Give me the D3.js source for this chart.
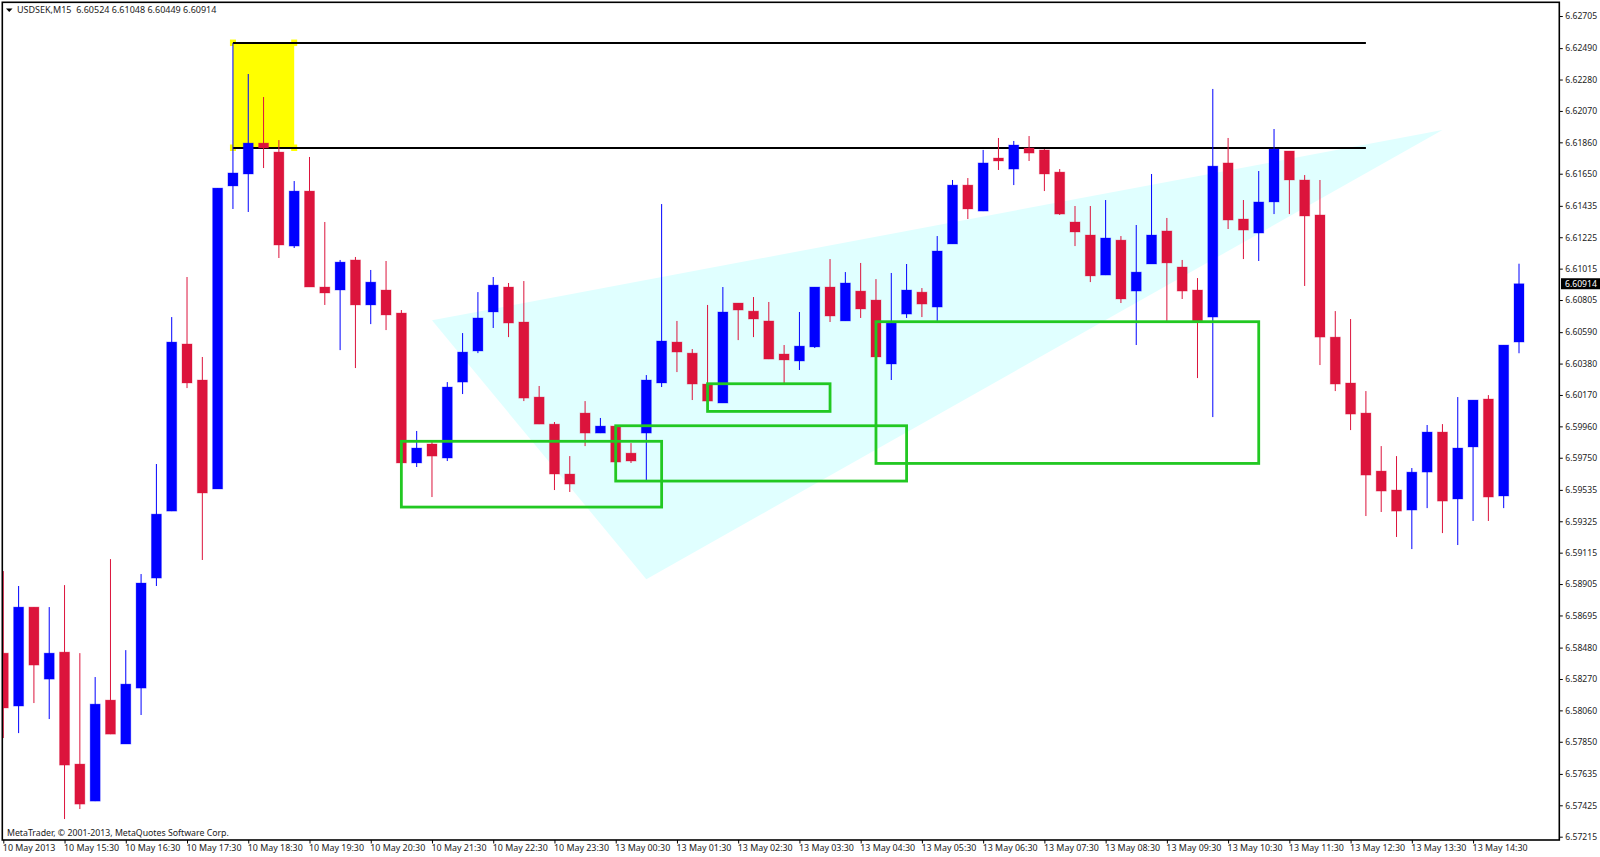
<!DOCTYPE html>
<html lang="en">
<head>
<meta charset="UTF-8" />
<title>USDSEK,M15</title>
<style>
  html, body { margin: 0; padding: 0; background: #fff; overflow: hidden; }
  svg { display: block; }
  text { font-family: "Noto Sans", "Liberation Sans", sans-serif; font-size: 9px; fill: #222; }
  .axis path { display: none; }
  .axis line { stroke: #000; stroke-width: 1; }
  .frame { fill: none; stroke: #000; stroke-width: 1.6; }
  .up { fill: #0000ff; stroke: #0000ff; }
  .down { fill: #dc143c; stroke: #dc143c; }
  .body { stroke-opacity: 0.3; stroke-width: 1; }
  .wick { stroke-width: 1; }
  .wick.up { stroke: #0000ff; }
  .wick.down { stroke: #dc143c; }
</style>
</head>
<body>
<svg width="1600" height="857"></svg>
<script src="https://d3js.org/d3.v7.min.js"></script>
<script>
  const opens = [
    6.58443, 6.58089, 6.58751, 6.58269, 6.58450, 6.57701, 6.57453, 6.58129, 6.57835, 6.58209,
    6.58945, 6.59393, 6.60511, 6.60270, 6.59541, 6.61568, 6.61648, 6.61855, 6.61795, 6.61166,
    6.61534, 6.60892, 6.60872, 6.61073, 6.60772, 6.60872, 6.60718, 6.59715, 6.59842, 6.59748,
    6.60256, 6.60464, 6.60725, 6.60892, 6.60658, 6.60156, 6.59975, 6.59641, 6.60049, 6.59915,
    6.59962, 6.59781, 6.59915, 6.60250, 6.60524, 6.60450, 6.60243, 6.60116, 6.60785, 6.60731,
    6.60665, 6.60444, 6.60397, 6.60491, 6.60892, 6.60665, 6.60865, 6.60805, 6.60377, 6.60711,
    6.60858, 6.60758, 6.61180, 6.61574, 6.61400, 6.61755, 6.61681, 6.61822, 6.61809, 6.61661,
    6.61327, 6.61240, 6.60972, 6.61206, 6.60865, 6.61046, 6.61267, 6.61026, 6.60872, 6.60691,
    6.61722, 6.61347, 6.61253, 6.61461, 6.61802, 6.61608, 6.61374, 6.60557, 6.60250, 6.60049,
    6.59661, 6.59534, 6.59400, 6.59654, 6.59922, 6.59474, 6.59822, 6.60143, 6.59494, 6.60524
  ];
  const highs = [
    6.58992, 6.58892, 6.58751, 6.58751, 6.58898, 6.58443, 6.58283, 6.59072, 6.58463, 6.58972,
    6.59708, 6.60691, 6.60959, 6.60424, 6.61554, 6.62524, 6.62317, 6.62163, 6.61875, 6.61601,
    6.61762, 6.61327, 6.61073, 6.61093, 6.61006, 6.61066, 6.60738, 6.59929, 6.59855, 6.60256,
    6.60584, 6.60858, 6.60959, 6.60919, 6.60932, 6.60230, 6.59989, 6.59761, 6.60129, 6.60016,
    6.59962, 6.59848, 6.60303, 6.61447, 6.60665, 6.60477, 6.60772, 6.60892, 6.60785, 6.60825,
    6.60792, 6.60504, 6.60725, 6.60892, 6.61079, 6.60992, 6.61053, 6.60945, 6.60986, 6.61046,
    6.60885, 6.61233, 6.61608, 6.61621, 6.61809, 6.61889, 6.61869, 6.61902, 6.61815, 6.61681,
    6.61434, 6.61434, 6.61474, 6.61233, 6.61307, 6.61648, 6.61354, 6.61073, 6.60952, 6.62217,
    6.61889, 6.61474, 6.61668, 6.61949, 6.61802, 6.61641, 6.61608, 6.60731, 6.60678, 6.60196,
    6.59828, 6.59761, 6.59681, 6.59969, 6.59975, 6.60156, 6.60136, 6.60169, 6.60504, 6.61048
  ];
  const lows = [
    6.57875, 6.57908, 6.58109, 6.58002, 6.57333, 6.57400, 6.57453, 6.57901, 6.57835, 6.58029,
    6.58892, 6.59393, 6.60216, 6.59066, 6.59541, 6.61414, 6.61394, 6.61688, 6.61086, 6.61153,
    6.60892, 6.60772, 6.60470, 6.60350, 6.60644, 6.60604, 6.59715, 6.59688, 6.59487, 6.59728,
    6.60176, 6.60450, 6.60618, 6.60557, 6.60129, 6.59975, 6.59534, 6.59521, 6.59828, 6.59915,
    6.59721, 6.59715, 6.59601, 6.60223, 6.60323, 6.60136, 6.60129, 6.60116, 6.60537, 6.60557,
    6.60410, 6.60250, 6.60337, 6.60484, 6.60658, 6.60665, 6.60685, 6.60424, 6.60270, 6.60685,
    6.60691, 6.60665, 6.61180, 6.61347, 6.61400, 6.61675, 6.61574, 6.61735, 6.61534, 6.61374,
    6.61166, 6.60925, 6.60972, 6.60785, 6.60504, 6.61046, 6.60658, 6.60812, 6.60283, 6.60022,
    6.61280, 6.61079, 6.61066, 6.61380, 6.61380, 6.60899, 6.60370, 6.60196, 6.59935, 6.59360,
    6.59387, 6.59220, 6.59139, 6.59413, 6.59246, 6.59166, 6.59327, 6.59327, 6.59413, 6.60449
  ];
  const closes = [
    6.58076, 6.58751, 6.58363, 6.58443, 6.57694, 6.57433, 6.58102, 6.57901, 6.58236, 6.58912,
    6.59373, 6.60524, 6.60250, 6.59514, 6.61554, 6.61655, 6.61855, 6.61822, 6.61173, 6.61534,
    6.60892, 6.60852, 6.61059, 6.60772, 6.60925, 6.60705, 6.59715, 6.59815, 6.59761, 6.60223,
    6.60457, 6.60685, 6.60905, 6.60651, 6.60149, 6.59975, 6.59641, 6.59574, 6.59915, 6.59962,
    6.59721, 6.59728, 6.60270, 6.60531, 6.60457, 6.60243, 6.60129, 6.60725, 6.60738, 6.60678,
    6.60410, 6.60404, 6.60497, 6.60892, 6.60698, 6.60919, 6.60745, 6.60424, 6.60651, 6.60872,
    6.60778, 6.61133, 6.61574, 6.61414, 6.61722, 6.61735, 6.61842, 6.61788, 6.61648, 6.61380,
    6.61260, 6.60966, 6.61220, 6.60812, 6.60992, 6.61240, 6.61053, 6.60865, 6.60665, 6.61701,
    6.61340, 6.61273, 6.61461, 6.61815, 6.61608, 6.61367, 6.60557, 6.60243, 6.60042, 6.59634,
    6.59527, 6.59393, 6.59654, 6.59922, 6.59460, 6.59815, 6.60136, 6.59487, 6.60504, 6.60914
  ];

  const priceTicks = [
    6.62705, 6.62490, 6.62280, 6.62070, 6.61860, 6.61650, 6.61435, 6.61225, 6.61015,
    6.60805, 6.60590, 6.60380, 6.60170, 6.59960, 6.59750, 6.59535, 6.59325, 6.59115,
    6.58905, 6.58695, 6.58480, 6.58270, 6.58060, 6.57850, 6.57635, 6.57425, 6.57215
  ];
  const timeLabels = [
    "10 May 2013", "10 May 15:30", "10 May 16:30", "10 May 17:30", "10 May 18:30",
    "10 May 19:30", "10 May 20:30", "10 May 21:30", "10 May 22:30", "10 May 23:30",
    "13 May 00:30", "13 May 01:30", "13 May 02:30", "13 May 03:30", "13 May 04:30",
    "13 May 05:30", "13 May 06:30", "13 May 07:30", "13 May 08:30", "13 May 09:30",
    "13 May 10:30", "13 May 11:30", "13 May 12:30", "13 May 13:30", "13 May 14:30"
  ];
  const barsPerLabel = 4;

  // drawn objects, in [bar index, price]
  const wedge = [[28, 6.60669], [94, 6.61942], [42, 6.58938]];
  const yellowZone = [15, 19, 6.62524, 6.61822];
  const blackLevels = [6.62524, 6.61822];
  const blackLevelBars = [15, 89];
  // start bar, end bar, top price, bottom price
  const greenBoxes = [
    [26, 43, 6.59860, 6.59420],
    [40, 59, 6.59964, 6.59594],
    [46, 54, 6.60245, 6.60060],
    [57, 82, 6.60660, 6.59712]
  ];

  const candles = d3.range(opens.length).map(i => ({
    i, open: opens[i], high: highs[i], low: lows[i], close: closes[i]
  }));
  const last = candles[candles.length - 1];

  const plot = { left: 2.3, top: 2.3, right: 1559.3, bottom: 840 };
  const bodyWidth = 10;

  const x = d3.scaleLinear().domain([0, 99]).range([3.3, 1519]);
  const y = d3.scaleLinear().domain([6.62705, 6.57215]).range([16, 836.7]);

  const svg = d3.select("svg");

  svg.append("clipPath").attr("id", "plot-clip")
    .append("rect")
    .attr("x", plot.left).attr("y", plot.top)
    .attr("width", plot.right - plot.left).attr("height", plot.bottom - plot.top);

  const chart = svg.append("g").attr("clip-path", "url(#plot-clip)");

  // background objects
  chart.append("polygon")
    .attr("points", wedge.map(d => [x(d[0]), y(d[1])].join(",")).join(" "))
    .attr("fill", "#e0ffff");

  const [zx0, zx1, zy0, zy1] = yellowZone;
  chart.append("rect")
    .attr("x", x(zx0)).attr("y", y(zy0))
    .attr("width", x(zx1) - x(zx0)).attr("height", y(zy1) - y(zy0))
    .attr("fill", "#ffff00");

  // little anchor squares on the corners of the zone
  chart.append("g").selectAll("rect")
    .data(d3.cross([zx0, zx1], [zy0, zy1]))
    .join("rect")
    .attr("x", d => x(d[0]) - 3).attr("y", d => y(d[1]) - 3.5)
    .attr("width", 6).attr("height", 6.5)
    .attr("fill", "#ffff00");

  chart.append("g").selectAll("line")
    .data(blackLevels)
    .join("line")
    .attr("x1", x(blackLevelBars[0])).attr("x2", x(blackLevelBars[1]))
    .attr("y1", d => y(d)).attr("y2", d => y(d))
    .attr("stroke", "#000").attr("stroke-width", 2);

  // candles
  const dir = d => d.close >= d.open ? "up" : "down";

  chart.append("g").selectAll("line")
    .data(candles)
    .join("line")
    .attr("class", d => "wick " + dir(d))
    .attr("x1", d => x(d.i)).attr("x2", d => x(d.i))
    .attr("y1", d => y(d.high)).attr("y2", d => y(d.low));

  chart.append("g").selectAll("rect")
    .data(candles)
    .join("rect")
    .attr("class", d => "body " + dir(d))
    .attr("x", d => x(d.i) - bodyWidth / 2)
    .attr("y", d => y(Math.max(d.open, d.close)))
    .attr("width", bodyWidth)
    .attr("height", d => Math.abs(y(d.open) - y(d.close)));

  // green boxes sit on top of the candles
  chart.append("g").selectAll("rect")
    .data(greenBoxes)
    .join("rect")
    .attr("x", d => x(d[0])).attr("y", d => y(d[2]))
    .attr("width", d => x(d[1]) - x(d[0])).attr("height", d => y(d[3]) - y(d[2]))
    .attr("fill", "none")
    .attr("stroke", "#22c822").attr("stroke-width", 2.8);

  // frame
  svg.append("rect")
    .attr("class", "frame")
    .attr("x", plot.left).attr("y", plot.top)
    .attr("width", plot.right - plot.left).attr("height", plot.bottom - plot.top);

  // price axis
  svg.append("g")
    .attr("class", "axis")
    .attr("transform", `translate(${plot.right},0)`)
    .call(d3.axisRight(y).tickValues(priceTicks).tickSize(3.5).tickPadding(2.5).tickFormat(d3.format(".5f")))
    .call(g => g.selectAll("text").style("font-size", "8.6px").style("font-family", '"Noto Sans"'));

  // time axis
  const labelBars = timeLabels.map((d, k) => k * barsPerLabel);
  svg.append("g")
    .attr("class", "axis")
    .attr("transform", `translate(0,${plot.bottom})`)
    .call(d3.axisBottom(x).tickValues(labelBars).tickSize(3.5).tickPadding(1.5)
      .tickFormat((d, k) => timeLabels[k]))
    .call(g => g.selectAll("text").attr("text-anchor", "start").attr("dx", -1).style("font-size", "8.9px"));

  // current price tag
  svg.append("rect")
    .attr("x", 1561).attr("y", y(last.close) - 5.5)
    .attr("width", 39).attr("height", 11)
    .attr("fill", "#000");
  svg.append("text")
    .attr("x", 1565).attr("y", y(last.close))
    .attr("dy", "0.34em")
    .style("fill", "#fff").style("font-size", "8.6px")
    .text(last.close.toFixed(5));

  // header
  svg.append("path").attr("d", "M6 8.5h6.5l-3.25 3.5z").attr("fill", "#000");
  svg.append("text")
    .attr("x", 17).attr("y", 13.3)
    .text(`USDSEK,M15  ${[last.open, last.high, last.low, last.close].map(d => d.toFixed(5)).join(" ")}`)
    .style("white-space", "pre");

  svg.append("text")
    .attr("x", 7).attr("y", 836)
    .style("font-size", "8.75px")
    .text("MetaTrader, © 2001-2013, MetaQuotes Software Corp.");
</script>
</body>
</html>
